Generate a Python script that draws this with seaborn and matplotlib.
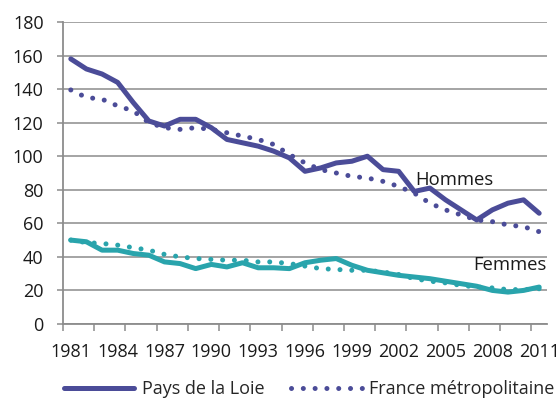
import seaborn as sns
import matplotlib.pyplot as plt
import pandas as pd
from matplotlib.lines import Line2D

years = list(range(1981, 2012))

hommes_pdl = [158, 152, 149, 144, 132, 121, 118, 122, 122, 117,
              110, 108, 106, 103, 99, 91, 93, 96, 97, 100,
              92, 91, 79, 81, 74, 68, 62, 68, 72, 74, 66]
hommes_fr = [139.5, 135, 134, 130, 127, 120, 117, 116, 117, 116,
             114, 112, 110, 107, 101, 96, 92, 90, 88, 87,
             85, 82, 78, 72, 68, 65, 62, 61, 59, 58, 55]
femmes_pdl = [50, 49, 44, 44, 42, 41, 37, 36, 33, 35.5,
              34, 36.5, 33.5, 33.5, 33, 36.5, 38, 39, 35, 32,
              30.5, 29, 28, 27, 25.5, 24, 22.5, 20, 19, 20, 22]
femmes_fr = [50, 48.5, 48, 47, 45.5, 44, 41.5, 40, 39, 38.5,
             38, 38, 37, 37, 36, 34.5, 33, 32.5, 32, 32,
             31, 29.5, 27, 25.5, 24.5, 23, 22, 21.5, 20.5, 20.5, 21]

legend_labels = ["Pays de la Loie", "France métropolitaine"]
purple = "#4b4c98"
teal = "#29a4ac"
grey = "#8c8c8c"

df = pd.DataFrame({"pos": range(len(years)), "annee": years,
                   "hommes_pdl": hommes_pdl, "hommes_fr": hommes_fr,
                   "femmes_pdl": femmes_pdl, "femmes_fr": femmes_fr})

sns.set_style("white")
plt.rcParams["font.family"] = ["Open Sans", "DejaVu Sans"]

fig = plt.figure(figsize=(5.59, 3.98), dpi=100)
ax = fig.add_axes([0.1127, 0.186, 0.8658, 0.7587])

dot = (0, (0.01, 2.35))
solid_kw = dict(lw=3.6, solid_capstyle="round", solid_joinstyle="round")
dot_kw = dict(lw=3.6, dash_capstyle="round")

sns.lineplot(data=df, x="pos", y="femmes_fr", ax=ax, color=teal, linestyle=dot, **dot_kw)
sns.lineplot(data=df, x="pos", y="femmes_pdl", ax=ax, color=teal, **solid_kw)
sns.lineplot(data=df, x="pos", y="hommes_fr", ax=ax, color=purple, linestyle=dot, **dot_kw)
sns.lineplot(data=df, x="pos", y="hommes_pdl", ax=ax, color=purple, **solid_kw)

ax.set_xlim(-0.5, len(years) - 0.5)
ax.set_ylim(0, 180)
ax.set_yticks(range(0, 181, 20))
ax.set_xticks(range(0, len(years), 3))
ax.set_xticklabels([str(y) for y in years[::3]])
ax.set_xticks([i - 0.5 for i in range(0, len(years), 2)], minor=True)
ax.set_xlabel("")
ax.set_ylabel("")

ax.grid(axis="y", color=grey, lw=1.1)
ax.set_axisbelow(True)
for side in ["top", "right"]:
    ax.spines[side].set_visible(False)
for side in ["left", "bottom"]:
    ax.spines[side].set_color(grey)
    ax.spines[side].set_linewidth(1.3)

ax.tick_params(axis="y", length=4, width=1.1, color=grey, pad=10, labelsize=13, labelcolor="#1a1a1a", left=True)
ax.tick_params(axis="x", which="major", length=0, pad=14, labelsize=13, labelcolor="#1a1a1a")
ax.tick_params(axis="x", which="minor", length=5, width=1.1, color=grey, bottom=True)

ax.text(24.6, 86, "Hommes", ha="center", va="center", fontsize=13.3, color="#1a1a1a")
ax.text(28.1, 35, "Femmes", ha="center", va="center", fontsize=13.3, color="#1a1a1a", clip_on=False)

handles = [Line2D([], [], color=purple, **solid_kw),
           Line2D([], [], color=purple, linestyle=dot, **dot_kw)]
fig.legend(handles, legend_labels, loc="center", bbox_to_anchor=(0.553, 0.022),
           ncol=2, frameon=False, fontsize=13, handlelength=3.9,
           handletextpad=0.4, columnspacing=1.5, borderaxespad=0)

plt.savefig("out.png", dpi=100)
plt.close()
